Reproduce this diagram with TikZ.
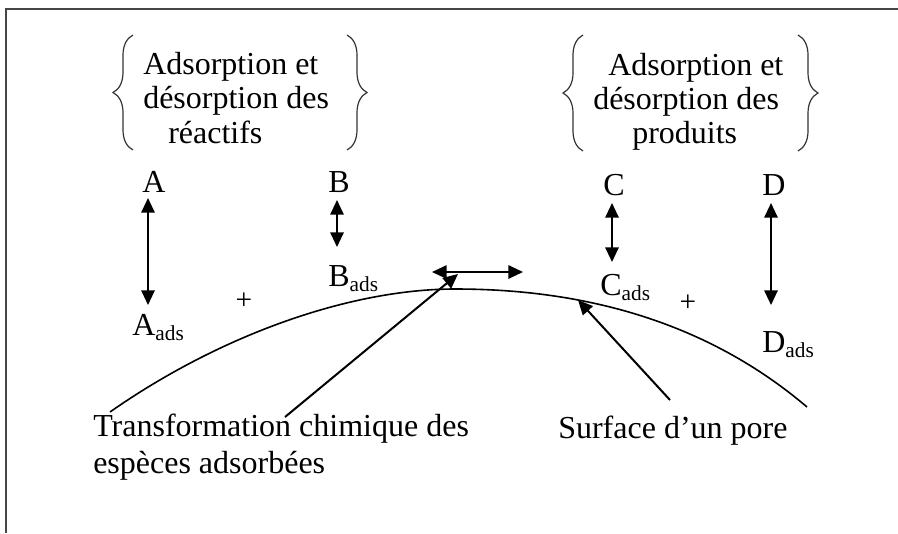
\documentclass[tikz,border=0pt]{standalone}
\usepackage{fontspec}
\setmainfont{Liberation Serif}
\usetikzlibrary{arrows.meta,decorations.pathreplacing}
\begin{document}
\begin{tikzpicture}[x=0.75pt,y=-0.75pt,
  txt/.style={font=\fontsize{24}{28}\selectfont, inner sep=0pt, anchor=base west},
  plus/.style={font=\fontsize{22}{22}\selectfont, inner sep=0pt},
  dbl/.style={{Triangle[length=11pt,width=10pt]}-{Triangle[length=11pt,width=10pt]}, line width=1.5pt},
  ptr/.style={-{Triangle[length=11pt,width=10pt]}, line width=1.5pt},
  brc/.style={decorate, decoration={brace, amplitude=15pt}, line width=0.9pt, draw=black!80},
  surf/.style={line width=1.2pt},
  frame/.style={draw=gray!55!black, line width=1.6pt}
]
\useasboundingbox (0,0) rectangle (898,533);
\draw[frame] (6,533) -- (6,9) -- (898,9);

% braces
\draw[brc] (133,150) -- (133,35);
\draw[brc] (347,35) -- (347,150);
\draw[brc] (583,151) -- (583,35);
\draw[brc] (798,35) -- (798,151);

% block texts
\node[txt] (l1) at (143,74) {Adsorption et};
\node[txt] (l2) at (143,108) {désorption des};
\node[txt] (l3) at (168,143) {réactifs};
\node[txt] (r1) at (608,75) {Adsorption et};
\node[txt] (r2) at (593,109) {désorption des};
\node[txt] (r3) at (632,143) {produits};

% species
\newcommand{\adsx}{\raisebox{-0.16em}{\fontsize{16}{16}\selectfont ads}}
\node[txt] (A) at (142,192) {A};
\node[txt] (B) at (328,192) {B};
\node[txt] (C) at (603,195) {C};
\node[txt] (D) at (762,195) {D};
\node[txt] (Aads) at (132,335) {A\adsx};
\node[txt] (Bads) at (328,286) {B\adsx};
\node[txt] (Cads) at (600,295) {C\adsx};
\node[txt] (Dads) at (762,352) {D\adsx};
\node[plus] (p1) at (244,301) {+};
\node[plus] (p2) at (688,303) {+};

% arrow end coordinates
\coordinate (a1) at (148,198); \coordinate (a2) at (148,305);
\coordinate (b1) at (337,200); \coordinate (b2) at (337,247);
\coordinate (c1) at (612,203); \coordinate (c2) at (612,262);
\coordinate (d1) at (771,203); \coordinate (d2) at (771,305);
\coordinate (h1) at (432,272); \coordinate (h2) at (523,272);
\draw[dbl] (a1) -- (a2);
\draw[dbl] (b1) -- (b2);
\draw[dbl] (c1) -- (c2);
\draw[dbl] (d1) -- (d2);
\draw[dbl] (h1) -- (h2);

% pore surface
\draw[surf] (110,412) .. controls (220,335) and (350,289) .. (455,289)
                      .. controls (585,289) and (707,322) .. (807,407);

% bottom labels
\node[txt] (t1) at (93,436) {Transformation chimique des};
\node[txt] (t2) at (93,473) {espèces adsorbées};
\node[txt] (s1) at (558,438) {Surface d’un pore};

\coordinate (q1) at (285,417); \coordinate (q2) at (458,274);
\coordinate (u1) at (670,400); \coordinate (u2) at (578,300);
\draw[ptr] (q1) -- (q2);
\draw[ptr] (u1) -- (u2);
\end{tikzpicture}
\end{document}
